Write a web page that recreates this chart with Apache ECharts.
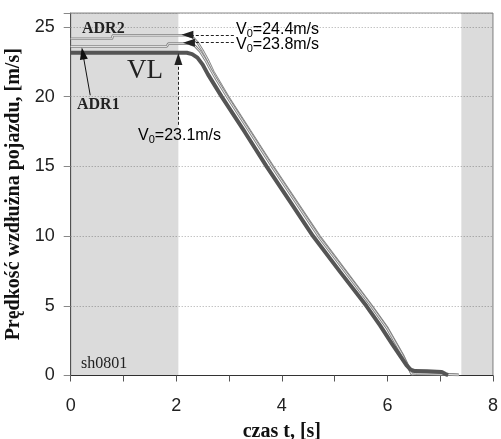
<!DOCTYPE html>
<html>
<head>
<meta charset="utf-8">
<script src="https://cdn.jsdelivr.net/npm/echarts@6/dist/echarts.min.js"></script>
<style>html,body{margin:0;padding:0;background:#fff}#c{width:501px;height:439px}</style>
</head>
<body>
<div id="c"></div>
<script>
// ---- data ----
const xTicks = [0, 2, 4, 6, 8];
const yTicks = [0, 5, 10, 15, 20, 25];

const vlT = [0, 2.2, 2.3, 2.4, 2.5, 2.6, 2.86, 3.3, 3.71, 4.15, 4.59, 5.1, 5.6, 5.86, 6.1, 6.36, 6.44, 6.52, 6.75, 7.03, 7.1, 7.15];
const vlV = [23.15, 23.15, 23.05, 22.8, 22.3, 21.6, 20.0, 17.45, 15.0, 12.5, 10.0, 7.45, 5.0, 3.6, 2.2, 0.75, 0.42, 0.32, 0.3, 0.25, 0.1, 0.03];

const adr2T = [0, 0.78, 0.8, 2.2, 2.3, 2.4, 2.5, 2.6, 2.7, 2.98, 3.83, 4.71, 5.7, 6.0, 6.3, 6.42, 6.46, 6.55, 7.0, 7.35];
const adr2V = [24.15, 24.15, 24.4, 24.4, 24.3, 23.9, 23.3, 22.6, 21.8, 20.0, 15.0, 10.0, 5.0, 3.4, 1.4, 0.45, 0.12, 0.14, 0.12, 0.05];

const adr1T = [0, 1.82, 1.85, 2.25, 2.35, 2.45, 2.55, 2.65, 2.75, 2.98, 3.83, 4.71, 5.7, 6.0, 6.3, 6.42, 6.46, 6.55, 7.0, 7.35];
const adr1V = [23.6, 23.6, 23.8, 23.8, 23.65, 23.25, 22.65, 21.95, 21.3, 19.9, 14.9, 9.9, 4.95, 3.35, 1.35, 0.42, 0.1, 0.12, 0.1, 0.04];

const shadeLeft = [0, 2.04];
const shadeRight = [7.4, 8];

const v0Labels = ['24.4', '23.8', '23.1'];

const zip = (a, b) => a.map((t, i) => [t, b[i]]);

const chart = echarts.init(document.getElementById('c'), null, {renderer: 'canvas'});

const serif = 'Liberation Serif';
const sans = 'Liberation Sans';

function v0Text(val) {
  return '{a|V}{b|0}{a|=' + val + 'm/s}';
}
const v0Rich = {
  a: {fontSize: 16, fontFamily: sans, color: '#111', lineHeight: 18},
  b: {fontSize: 11, fontFamily: sans, color: '#111', lineHeight: 11, verticalAlign: 'bottom', padding: [4, 0, 0, 0]}
};

const arrowDash = {color: '#222', width: 1, type: [3, 2]};

const option = {
  animation: false,
  backgroundColor: '#fff',
  grid: {left: 70.7, right: 8, top: 13, bottom: 63.5, show: true, borderColor: '#888', borderWidth: 1, containLabel: false, outerBoundsMode: 'none'},
  xAxis: {
    type: 'value', min: 0, max: 8, interval: 1,
    axisLine: {lineStyle: {color: '#333', width: 1}},
    axisTick: {show: true, length: 6, lineStyle: {color: '#555'}},
    axisLabel: {
      fontFamily: sans, fontSize: 18, color: '#222', margin: 22,
      formatter: v => (xTicks.indexOf(v) >= 0 ? String(v) : '')
    },
    splitLine: {show: false},
    name: 'czas t, [s]', nameLocation: 'middle', nameGap: 46,
    nameTextStyle: {fontFamily: serif, fontWeight: 'bold', fontSize: 20, color: '#111'}
  },
  yAxis: {
    type: 'value', min: 0, max: 26, interval: 5,
    axisLine: {show: true, lineStyle: {color: '#555', width: 1}},
    axisTick: {show: true, length: 7, lineStyle: {color: '#888'}},
    axisLabel: {
      fontFamily: sans, fontSize: 18, color: '#222', margin: 16,
      formatter: v => (yTicks.indexOf(v) >= 0 ? String(v) : '')
    },
    splitLine: {show: true, lineStyle: {color: '#aaa', width: 1, type: [1, 2]}},
    name: 'Prędkość wzdłużna pojazdu, [m/s]', nameLocation: 'middle', nameGap: 36,
    nameTextStyle: {fontFamily: serif, fontWeight: 'bold', fontSize: 20, color: '#111'}
  },
  series: [
    {
      type: 'line', data: [], z: 1, silent: true,
      markArea: {
        silent: true,
        itemStyle: {color: 'rgba(0,0,0,0.14)'},
        data: [
          [{xAxis: shadeLeft[0]}, {xAxis: shadeLeft[1]}],
          [{xAxis: shadeRight[0]}, {xAxis: shadeRight[1]}]
        ]
      }
    },
    {name: 'ADR2o', type: 'line', data: zip(adr2T, adr2V), showSymbol: false, z: 3, lineStyle: {color: '#858585', width: 2.6}},
    {name: 'ADR2i', type: 'line', data: zip(adr2T, adr2V), showSymbol: false, z: 3, lineStyle: {color: '#eeeeee', width: 0.9}},
    {name: 'ADR1o', type: 'line', data: zip(adr1T, adr1V), showSymbol: false, z: 3, lineStyle: {color: '#858585', width: 2.6}},
    {name: 'ADR1i', type: 'line', data: zip(adr1T, adr1V), showSymbol: false, z: 3, lineStyle: {color: '#eeeeee', width: 0.9}},
    {name: 'VL', type: 'line', data: zip(vlT, vlV), showSymbol: false, z: 4, lineStyle: {color: '#555', width: 4}},
    {
      type: 'line', data: [], z: 6, silent: true,
      markLine: {
        silent: true,
        symbol: ['none', 'triangle'],
        symbolSize: [8, 12],
        label: {show: false},
        lineStyle: arrowDash,
        data: [
          [{coord: [3.09, 24.44]}, {coord: [2.21, 24.44]}],
          [{coord: [3.09, 23.87]}, {coord: [2.24, 23.87]}],
          [{coord: [2.04, 17.98]}, {coord: [2.04, 22.7]}],
          [{coord: [0.37, 20.1], lineStyle: {type: 'solid', color: '#111', width: 1}}, {coord: [0.23, 23.1]}]
        ]
      }
    }
  ],
  graphic: [
    {type: 'text', left: 82, top: 21, z: 10, style: {text: 'ADR2', font: 'bold 16px "Liberation Serif"', fill: '#222'}},
    {type: 'text', left: 77, top: 97, z: 10, style: {text: 'ADR1', font: 'bold 16px "Liberation Serif"', fill: '#222'}},
    {type: 'text', left: 127, top: 57, z: 10, style: {text: 'VL', font: '27px "Liberation Serif"', fill: '#222'}},
    {type: 'text', left: 81, top: 356, z: 10, style: {text: 'sh0801', font: '16px "Liberation Serif"', fill: '#222'}},
    {type: 'text', left: 236, top: 22, z: 10, style: {text: v0Text(v0Labels[0]), rich: v0Rich}},
    {type: 'text', left: 236, top: 37, z: 10, style: {text: v0Text(v0Labels[1]), rich: v0Rich}},
    {type: 'text', left: 138, top: 128, z: 10, style: {text: v0Text(v0Labels[2]), rich: v0Rich}}
  ]
};
chart.setOption(option);
</script>
</body>
</html>
